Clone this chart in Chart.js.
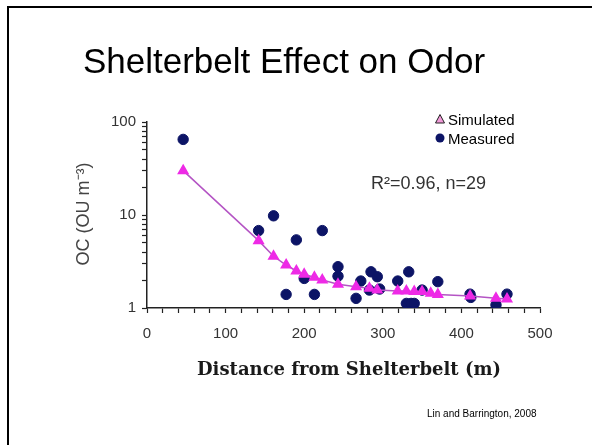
<!DOCTYPE html>
<html>
<head>
<meta charset="utf-8">
<script src="https://cdn.jsdelivr.net/npm/chart.js@4"></script>
<style>
  html, body { margin: 0; padding: 0; background: #fff; }
  #wrap { position: relative; width: 592px; height: 445px; }
</style>
</head>
<body>
<div id="wrap"><canvas id="chart" width="592" height="445"></canvas></div>
<script>
// valores (distância em m, OC em OU m-3)
const simX = [46, 142, 161, 177, 190, 200, 213, 223, 243, 266, 283, 293, 319, 330, 340, 350, 361, 370, 411, 444, 458];
const simY = [30, 5.3, 3.6, 2.9, 2.5, 2.3, 2.14, 2.0, 1.8, 1.69, 1.63, 1.56, 1.52, 1.52, 1.5, 1.5, 1.44, 1.4, 1.35, 1.27, 1.25];

const medX = [46, 142, 161, 177, 190, 200, 213, 223, 243, 243, 266, 272, 283, 285, 293, 296, 319, 333, 330, 336, 340, 350, 370, 411, 412, 444, 458];
const medY = [65, 6.8, 9.8, 1.4, 5.4, 2.08, 1.4, 6.8, 2.78, 2.2, 1.27, 1.95, 1.56, 2.45, 2.17, 1.6, 1.95, 2.45, 1.12, 1.12, 1.12, 1.56, 1.92, 1.41, 1.3, 1.08, 1.41];

const xTickLabels = [0, 100, 200, 300, 400, 500];
const yTickLabels = [1, 10, 100];

const titulo = 'Shelterbelt Effect on Odor';
const tituloX = 'Distance from Shelterbelt (m)';
const tituloY = 'OC (OU m\u207B\u00B3)';
const fonte = 'Lin and Barrington, 2008';
const r2Texto = 'R\u00B2=0.96, n=29';

const NAVY = '#0c1466';
const MAGENTA = '#ee2ae6';
const LINHA = '#b454c4';

const textos = {
    id: 'textos',
    beforeDraw(chart) {
        const c = chart.ctx;
        c.save();
        c.fillStyle = '#fff';
        c.fillRect(0, 0, chart.width, chart.height);
        // moldura do slide
        c.strokeStyle = '#000';
        c.lineWidth = 2;
        c.strokeRect(8, 7, 600, 460);
        c.restore();
    },
    afterDraw(chart) {
        const c = chart.ctx;
        c.save();
        c.fillStyle = '#000';
        c.textAlign = 'center';
        c.textBaseline = 'alphabetic';
        c.font = '35px "Liberation Sans", Arial, sans-serif';
        c.fillText(titulo, 284, 73);

        // eixo x
        c.fillStyle = '#1a1a1a';
        c.font = 'bold 18px "DejaVu Serif", "Liberation Serif", serif';
        c.textBaseline = 'middle';
        c.fillText(tituloX, 349, 370);

        // eixo y
        c.save();
        c.translate(84, 214);
        c.rotate(-Math.PI / 2);
        c.fillStyle = '#444';
        c.font = '18px "Liberation Sans", Arial, sans-serif';
        c.fillText(tituloY, 0, 0);
        c.restore();

        // R²
        c.fillStyle = '#333';
        c.font = '18px "Liberation Sans", Arial, sans-serif';
        c.textAlign = 'left';
        c.fillText(r2Texto, 371, 184);

        // legenda
        c.font = '15px "Liberation Sans", Arial, sans-serif';
        c.fillStyle = '#000';
        c.fillText('Simulated', 448, 121);
        c.fillText('Measured', 448, 140);
        c.beginPath();
        c.moveTo(440, 114.5);
        c.lineTo(444.5, 123);
        c.lineTo(435.5, 123);
        c.closePath();
        c.fillStyle = '#f19ad8';
        c.fill();
        c.strokeStyle = '#222';
        c.lineWidth = 1;
        c.stroke();
        c.beginPath();
        c.arc(440, 138, 4.5, 0, Math.PI * 2);
        c.fillStyle = NAVY;
        c.fill();

        // citação
        c.fillStyle = '#000';
        c.font = '10px "Liberation Sans", Arial, sans-serif';
        c.fillText(fonte, 427, 414);
        c.restore();
    }
};

new Chart(document.getElementById('chart').getContext('2d'), {
    type: 'scatter',
    data: {
        datasets: [
            {
                label: 'Simulated',
                data: simX.map((x, i) => ({ x, y: simY[i] })),
                showLine: true,
                borderColor: LINHA,
                borderWidth: 1.5,
                pointStyle: 'triangle',
                pointRadius: 5.5,
                pointBackgroundColor: MAGENTA,
                pointBorderColor: MAGENTA,
                order: 1
            },
            {
                label: 'Measured',
                data: medX.map((x, i) => ({ x, y: medY[i] })),
                pointStyle: 'circle',
                pointRadius: 5.2,
                pointBackgroundColor: NAVY,
                pointBorderColor: NAVY,
                order: 2
            }
        ]
    },
    options: {
        responsive: false,
        animation: false,
        layout: { padding: { left: 0, top: 122, right: 52, bottom: 0 } },
        plugins: { legend: { display: false }, tooltip: { enabled: false } },
        scales: {
            x: {
                type: 'linear',
                min: 0,
                max: 500,
                afterFit: s => { s.height = 137; },
                afterBuildTicks: s => {
                    const t = [];
                    for (let v = 0; v <= 500; v += 20) t.push({ value: v });
                    s.ticks = t;
                },
                border: { color: '#222', width: 1.5 },
                grid: { drawOnChartArea: false, tickLength: 5, color: '#222', tickWidth: 1.2 },
                ticks: {
                    autoSkip: false,
                    maxRotation: 0,
                    padding: 12,
                    color: '#333',
                    font: { family: '"Liberation Sans", Arial, sans-serif', size: 15 },
                    callback: v => xTickLabels.includes(v) ? String(v) : ''
                }
            },
            y: {
                type: 'logarithmic',
                min: 1,
                max: 100,
                afterFit: s => { s.width = 147; },
                afterBuildTicks: s => {
                    const t = [];
                    for (let d = 1; d <= 10; d *= 10) {
                        for (let m = 1; m < 10; m++) t.push({ value: d * m });
                    }
                    t.push({ value: 100 });
                    s.ticks = t;
                },
                border: { color: '#222', width: 1.5 },
                grid: { drawOnChartArea: false, tickLength: 5, color: '#222', tickWidth: 1.2 },
                ticks: {
                    autoSkip: false,
                    padding: 6,
                    color: '#333',
                    font: { family: '"Liberation Sans", Arial, sans-serif', size: 15 },
                    callback: v => yTickLabels.includes(v) ? String(v) : ''
                }
            }
        }
    },
    plugins: [textos]
});
</script>
</body>
</html>
